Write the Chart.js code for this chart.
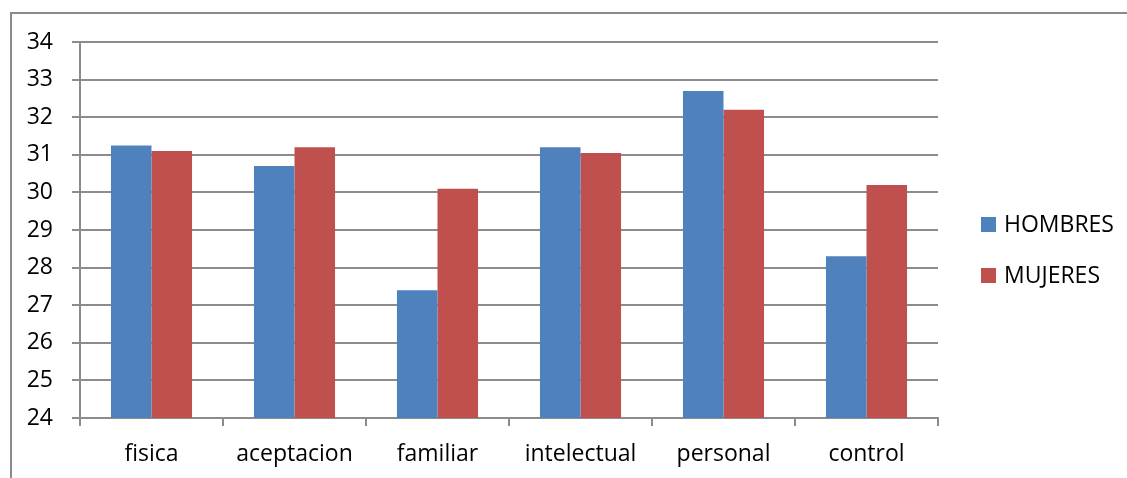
<!DOCTYPE html>
<html>
<head>
<meta charset="utf-8">
<script src="https://cdn.jsdelivr.net/npm/chart.js@4/dist/chart.umd.min.js"></script>
<style>
  html, body { margin: 0; padding: 0; background: #fff; }
  #wrap { position: relative; width: 1127px; height: 478px; }
</style>
</head>
<body>
<div id="wrap"><canvas id="c" width="1127" height="478"></canvas></div>
<script>
// Category labels and the two series
const categories = ['fisica', 'aceptacion', 'familiar', 'intelectual', 'personal', 'control'];
const hombres = [31.25, 30.7, 27.4, 31.2, 32.7, 28.3];
const mujeres = [31.1, 31.2, 30.1, 31.05, 32.2, 30.2];
const seriesNames = ['HOMBRES', 'MUJERES'];
const yMin = 24, yMax = 34, yStep = 1;

const BLUE = '#4F81BD';
const RED = '#C0504D';
const GRID = '#8c8c8c';
const FONT = '"Open Sans", Lato, sans-serif';
const FONT_SIZE = 23;

// Frame around the whole chart
const framePlugin = {
  id: 'frame',
  beforeDraw(chart) {
    const ctx = chart.ctx;
    ctx.save();
    ctx.strokeStyle = '#8a8a8a';
    ctx.lineWidth = 2;
    ctx.strokeRect(11, 13, 1140, 500);
    ctx.restore();
  }
};

// Legend drawn to the right of the plot
const sideLegend = {
  id: 'sideLegend',
  afterDraw(chart) {
    const ctx = chart.ctx;
    ctx.save();
    ctx.font = FONT_SIZE + 'px ' + FONT;
    ctx.textBaseline = 'middle';
    ctx.textAlign = 'left';
    chart.data.datasets.forEach((ds, i) => {
      const cy = 224.5 + i * 51;
      ctx.fillStyle = ds.backgroundColor;
      ctx.fillRect(981, cy - 7.5, 15, 15);
      ctx.fillStyle = '#000';
      ctx.fillText(ds.label, 1004, cy + 1);
    });
    ctx.restore();
  }
};

new Chart(document.getElementById('c'), {
  type: 'bar',
  data: {
    labels: categories,
    datasets: [
      { label: seriesNames[0], data: hombres, backgroundColor: BLUE },
      { label: seriesNames[1], data: mujeres, backgroundColor: RED }
    ]
  },
  options: {
    responsive: false,
    animation: false,
    devicePixelRatio: 1,
    layout: { padding: { left: 0, top: 42, right: 189, bottom: 0 } },
    plugins: {
      legend: { display: false },
      tooltip: { enabled: false }
    },
    datasets: {
      bar: { categoryPercentage: 0.567, barPercentage: 1.0 }
    },
    scales: {
      x: {
        afterFit(scale) { scale.height = 60; },
        grid: {
          offset: true,
          drawOnChartArea: false,
          drawTicks: true,
          tickLength: 8,
          color: GRID,
          lineWidth: 2
        },
        border: { display: true, color: GRID, width: 2 },
        ticks: {
          color: '#000',
          font: { family: FONT, size: FONT_SIZE },
          padding: 15,
          maxRotation: 0
        }
      },
      y: {
        min: yMin,
        max: yMax,
        afterFit(scale) { scale.width = 80; },
        grid: {
          color: GRID,
          lineWidth: 2,
          tickLength: 8,
          drawTicks: true
        },
        border: { display: true, color: GRID, width: 2 },
        ticks: {
          stepSize: yStep,
          color: '#000',
          font: { family: FONT, size: FONT_SIZE },
          padding: 19
        }
      }
    }
  },
  plugins: [framePlugin, sideLegend]
});
</script>
</body>
</html>
